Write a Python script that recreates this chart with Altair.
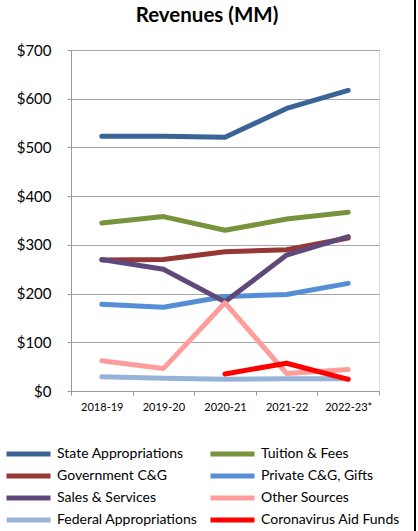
import altair as alt
import pandas as pd

years = ["2018-19", "2019-20", "2020-21", "2021-22", "2022-23*"]
series = ["State Appropriations", "Tuition & Fees", "Government C&G", "Private C&G, Gifts",
          "Sales & Services", "Other Sources", "Federal Appropriations", "Coronavirus Aid Funds"]
colors = ["#3A6496", "#77933C", "#953735", "#558ED5", "#5F497A", "#FF9D9D", "#95B3D7", "#FF0000"]

state = [523, 523, 521, 580, 617]
tuition = [345, 358, 330, 353, 367]
government = [269, 270, 286, 290, 314]
private = [178, 172, 194, 198, 221]
sales = [270, 250, 183, 279, 317]
other = [62, 46, 181, 36, 44]
federal = [29, 26, 24, 25, 25]
corona = [None, None, 35, 57, 24]

all_vals = [state, tuition, government, private, sales, other, federal, corona]
rows = []
for s, vals in zip(series, all_vals):
    for y, v in zip(years, vals):
        if v is not None:
            rows.append({"Year": y, "Series": s, "Value": v})
df = pd.DataFrame(rows)

# legend fills column by column: reorder so it reads row by row like the reference
legend_order = series[0::2] + series[1::2]
legend_colors = [colors[series.index(s)] for s in legend_order]

FONT = "Lato"

lines = alt.Chart(df).mark_line(strokeWidth=5, strokeCap="round", strokeJoin="round").encode(
    x=alt.X("Year:N", sort=years, title=None,
            scale=alt.Scale(paddingInner=0, paddingOuter=0),
            axis=alt.Axis(labelAngle=0, tickBand="extent", tickSize=4, tickColor="#9a9a9a",
                          domainColor="#9a9a9a", labelFontSize=11, labelPadding=6,
                          labelColor="#000000", grid=False, labelFont=FONT)),
    y=alt.Y("Value:Q", title=None, scale=alt.Scale(domain=[0, 700], nice=False),
            axis=alt.Axis(values=[0, 100, 200, 300, 400, 500, 600, 700], format="$,.0f",
                          tickSize=4, tickColor="#9a9a9a", domainColor="#9a9a9a",
                          gridColor="#a6a6a6", labelFontSize=15, labelPadding=16,
                          labelColor="#000000", labelFont=FONT)),
    color=alt.Color("Series:N",
                    scale=alt.Scale(domain=legend_order, range=legend_colors),
                    legend=alt.Legend(title=None, orient="none", legendX=-67, legendY=396,
                                      columns=2, symbolType="stroke", symbolStrokeWidth=5,
                                      symbolSize=1936, labelFontSize=14, labelFont=FONT,
                                      labelColor="#000000", labelOffset=4, rowPadding=6,
                                      clipHeight=16, columnPadding=10, padding=0,
                                      labelLimit=300)),
)

title = alt.Chart(pd.DataFrame({"t": ["Revenues (MM)"]})).mark_text(
    font=FONT, fontSize=20.5, fontWeight="bold", color="#000000", align="center",
    baseline="alphabetic"
).encode(text="t:N", x=alt.value(136), y=alt.value(-28))

border = alt.Chart(pd.DataFrame({"a": [0]})).mark_rule(color="#000000", strokeWidth=2).encode(
    x=alt.value(344), y=alt.value(-50), y2=alt.value(481)
)

chart = alt.layer(lines, title, border).properties(
    width=308, height=341,
    autosize=alt.AutoSizeParams(type="none"),
    padding={"left": 71, "top": 50, "right": 39, "bottom": 140},
).configure_view(stroke=None).configure(background="#ffffff")

chart.save("out.html", embed_options={"renderer": "svg", "actions": False})
